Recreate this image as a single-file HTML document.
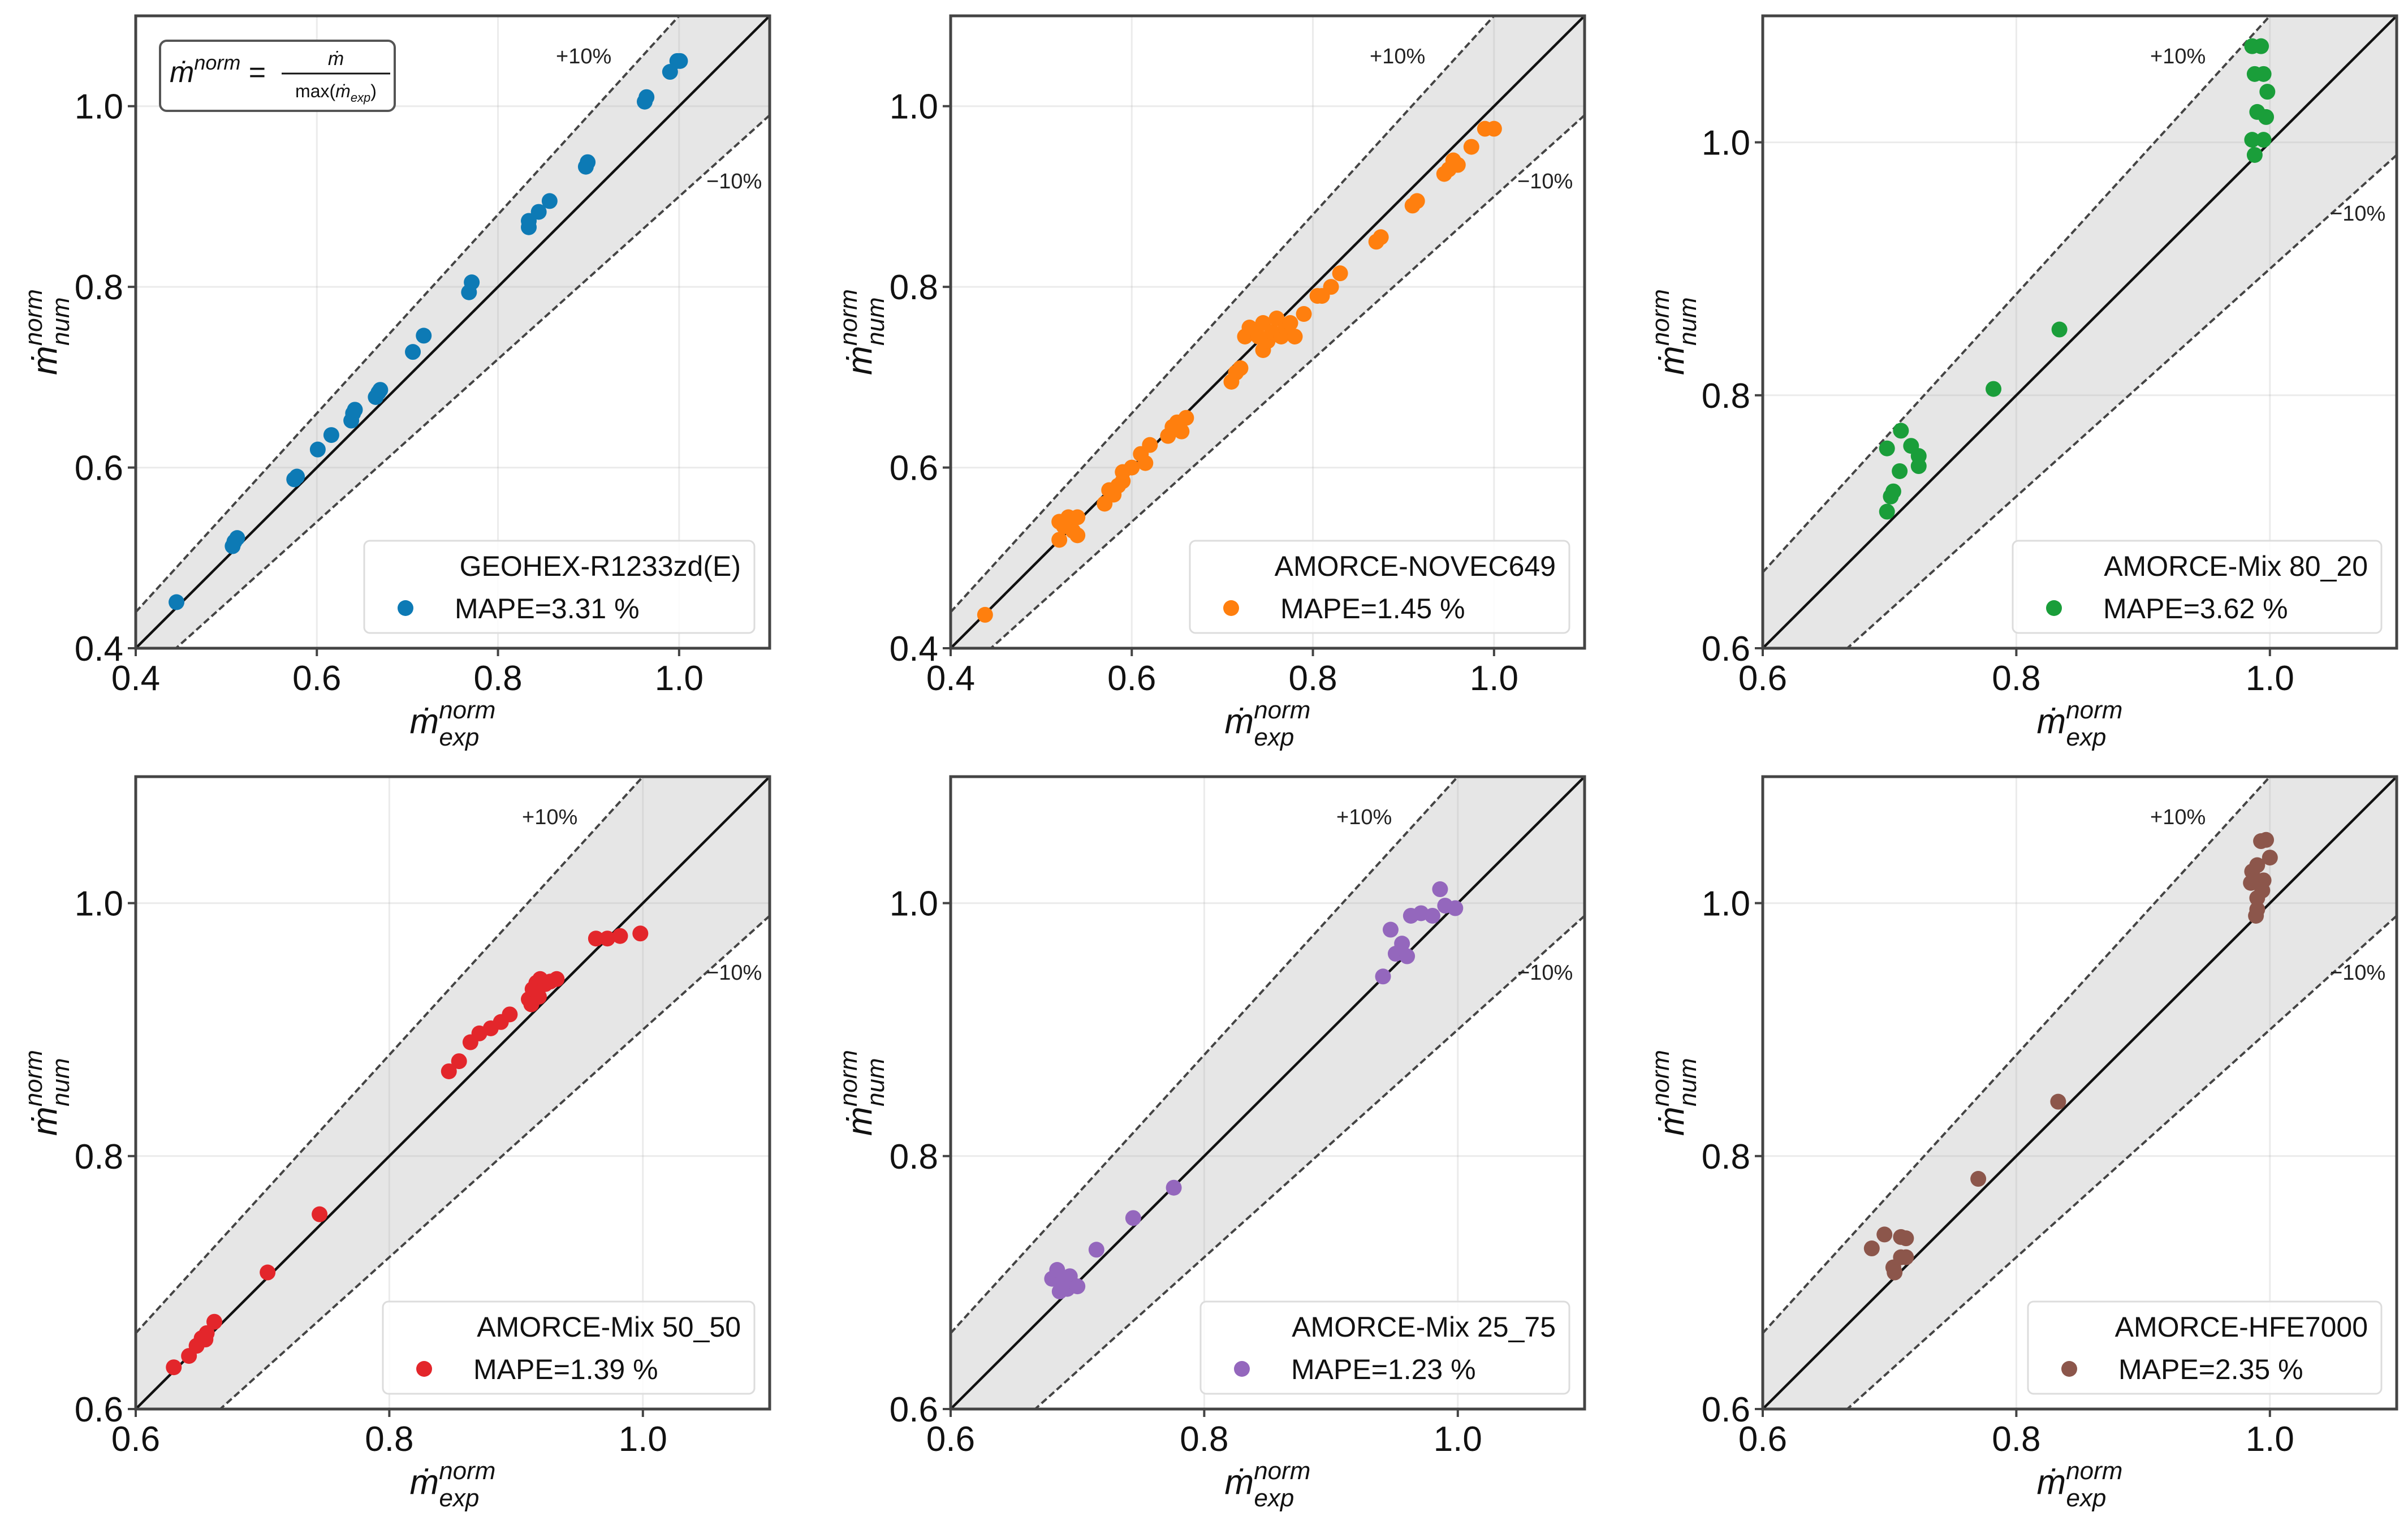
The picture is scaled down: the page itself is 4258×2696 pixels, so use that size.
<!DOCTYPE html>
<html><head><meta charset="utf-8">
<style>
html,body{margin:0;padding:0;background:#fff;}
svg{display:block;font-family:"Liberation Sans","DejaVu Sans",sans-serif;}
</style></head>
<body>
<svg id="fig" width="4258" height="2696" viewBox="0 0 4258 2696" xmlns="http://www.w3.org/2000/svg"></svg>
<script>
// ---- data ----
const geohexX = [0.445,0.509,0.512,0.507,0.575,0.578,0.601,0.616,0.638,0.640,0.642,0.665,0.668,0.670,0.706,0.718,0.768,0.771,0.834,0.834,0.845,0.857,0.897,0.899,0.962,0.964,0.990,0.998,1.001];
const geohexY = [0.451,0.518,0.522,0.513,0.587,0.590,0.620,0.636,0.652,0.660,0.664,0.678,0.683,0.686,0.728,0.746,0.794,0.805,0.866,0.873,0.883,0.895,0.933,0.938,1.005,1.010,1.038,1.050,1.050];
const novecX = [0.438,0.520,0.520,0.530,0.535,0.540,0.540,0.525,0.570,0.575,0.580,0.585,0.590,0.590,0.600,0.610,0.615,0.620,0.640,0.645,0.650,0.655,0.660,0.710,0.715,0.720,0.725,0.730,0.735,0.740,0.745,0.745,0.750,0.755,0.760,0.765,0.770,0.775,0.780,0.790,0.805,0.810,0.820,0.830,0.870,0.875,0.910,0.915,0.945,0.950,0.955,0.960,0.975,0.990,1.000];
const novecY = [0.437,0.520,0.540,0.545,0.530,0.545,0.525,0.535,0.560,0.575,0.570,0.580,0.585,0.595,0.600,0.615,0.605,0.625,0.635,0.645,0.650,0.640,0.655,0.695,0.705,0.710,0.745,0.755,0.750,0.745,0.760,0.730,0.740,0.750,0.765,0.745,0.755,0.760,0.745,0.770,0.790,0.790,0.800,0.815,0.850,0.855,0.890,0.895,0.925,0.930,0.940,0.935,0.955,0.975,0.975];
const mix8020X = [0.698,0.709,0.717,0.723,0.723,0.708,0.703,0.701,0.698,0.782,0.834,0.986,0.993,0.988,0.995,0.998,0.990,0.997,0.986,0.995,0.988];
const mix8020Y = [0.758,0.772,0.760,0.752,0.744,0.740,0.724,0.720,0.708,0.805,0.852,1.076,1.076,1.054,1.054,1.040,1.024,1.020,1.002,1.002,0.990];
const mix5050X = [0.630,0.642,0.648,0.652,0.656,0.662,0.655,0.704,0.745,0.847,0.855,0.864,0.871,0.880,0.888,0.895,0.910,0.913,0.916,0.919,0.923,0.927,0.932,0.912,0.918,0.963,0.972,0.982,0.998];
const mix5050Y = [0.633,0.642,0.650,0.656,0.660,0.669,0.655,0.708,0.754,0.867,0.875,0.890,0.897,0.901,0.906,0.912,0.924,0.932,0.937,0.940,0.936,0.938,0.940,0.920,0.926,0.972,0.972,0.974,0.976];
const mix2575X = [0.680,0.684,0.690,0.694,0.686,0.692,0.700,0.715,0.744,0.776,0.941,0.947,0.951,0.956,0.960,0.963,0.971,0.980,0.986,0.990,0.998];
const mix2575Y = [0.703,0.710,0.700,0.705,0.693,0.695,0.697,0.726,0.751,0.775,0.942,0.979,0.960,0.968,0.958,0.990,0.992,0.990,1.011,0.998,0.996];
const hfeX = [0.686,0.696,0.709,0.713,0.703,0.709,0.713,0.704,0.770,0.833,0.993,0.997,1.000,0.986,0.990,0.995,0.985,0.990,0.994,0.990,0.989];
const hfeY = [0.727,0.738,0.736,0.735,0.712,0.720,0.720,0.708,0.782,0.843,1.049,1.050,1.036,1.025,1.030,1.018,1.016,1.004,1.010,0.995,0.990];
const ticksA = [0.4,0.6,0.8,1.0];
const ticksB = [0.6,0.8,1.0];
const tickLabelsA = ["0.4","0.6","0.8","1.0"];
const tickLabelsB = ["0.6","0.8","1.0"];

const NS="http://www.w3.org/2000/svg";
const svg=document.getElementById('fig');
function mk(tag,attrs,parent){const e=document.createElementNS(NS,tag);for(const k in attrs)e.setAttribute(k,attrs[k]);(parent||svg).appendChild(e);return e;}

const panels=[
 {id:'geohex',x0:240,y0:28,min:0.4,X:geohexX,Y:geohexY,ticks:ticksA,labs:tickLabelsA,color:'#0d7ab5',name:'GEOHEX-R1233zd(E)',mape:'MAPE=3.31 %',legW:690,p10x:983,m10:[1249,333],formula:true},
 {id:'novec',x0:1681,y0:28,min:0.4,X:novecX,Y:novecY,ticks:ticksA,labs:tickLabelsA,color:'#ff7f0e',name:'AMORCE-NOVEC649',mape:'MAPE=1.45 %',legW:671,p10x:2422,m10:[2683,333]},
 {id:'mix8020',x0:3117,y0:28,min:0.6,X:mix8020X,Y:mix8020Y,ticks:ticksB,labs:tickLabelsB,color:'#1a9e3a',name:'AMORCE-Mix 80_20',mape:'MAPE=3.62 %',legW:652,p10x:3802,m10:[4120,390]},
 {id:'mix5050',x0:240,y0:1373,min:0.6,X:mix5050X,Y:mix5050Y,ticks:ticksB,labs:tickLabelsB,color:'#e3262b',name:'AMORCE-Mix 50_50',mape:'MAPE=1.39 %',legW:657,p10x:923,m10:[1249,1732]},
 {id:'mix2575',x0:1681,y0:1373,min:0.6,X:mix2575X,Y:mix2575Y,ticks:ticksB,labs:tickLabelsB,color:'#9467bd',name:'AMORCE-Mix 25_75',mape:'MAPE=1.23 %',legW:652,p10x:2363,m10:[2683,1732]},
 {id:'hfe',x0:3117,y0:1373,min:0.6,X:hfeX,Y:hfeY,ticks:ticksB,labs:tickLabelsB,color:'#8c564b',name:'AMORCE-HFE7000',mape:'MAPE=2.35 %',legW:625,p10x:3802,m10:[4120,1732]}
];
const W=1121,H=1118,MAX=1.1;

panels.forEach(p=>{
 const g=mk('g',{});
 
 
 const sx=v=>p.x0+(v-p.min)/(MAX-p.min)*W;
 const sy=v=>p.y0+H-(v-p.min)/(MAX-p.min)*H;
 const cid='clip-'+p.id;
 const cp=mk('clipPath',{id:cid},g);mk('rect',{x:p.x0,y:p.y0,width:W,height:H},cp);
 const plot=mk('g',{'clip-path':'url(#'+cid+')'},g);
 const band=mk('polygon',{points:`${sx(p.min)},${sy(p.min*1.1)} ${sx(MAX)},${sy(MAX*1.1)} ${sx(MAX)},${sy(MAX*0.9)} ${sx(p.min)},${sy(p.min*0.9)}`,fill:'#e6e6e6'},plot);
 
 
 p.ticks.forEach(t=>{
  const gx=mk('line',{x1:sx(t),x2:sx(t),y1:p.y0,y2:p.y0+H,stroke:'#b0b0b0','stroke-opacity':0.25,'stroke-width':3},plot);
  
  
  const gy=mk('line',{x1:p.x0,x2:p.x0+W,y1:sy(t),y2:sy(t),stroke:'#b0b0b0','stroke-opacity':0.25,'stroke-width':3},plot);
  
  
 });
 const ln=mk('line',{x1:sx(p.min),y1:sy(p.min),x2:sx(MAX),y2:sy(MAX),stroke:'#111','stroke-width':4.5},plot);
 
 
 const up=mk('line',{x1:sx(p.min),y1:sy(p.min*1.1),x2:sx(MAX),y2:sy(MAX*1.1),stroke:'#444','stroke-width':4,'stroke-dasharray':'12 6'},plot);
 
 
 const dn=mk('line',{x1:sx(p.min),y1:sy(p.min*0.9),x2:sx(MAX),y2:sy(MAX*0.9),stroke:'#444','stroke-width':4,'stroke-dasharray':'12 6'},plot);
 
 
 p.X.forEach((xv,i)=>{
  const c=mk('circle',{cx:sx(xv),cy:sy(p.Y[i]),r:14,fill:p.color},plot);
  
  
 });
 const t1=mk('text',{x:p.p10x,y:p.y0+84,'font-size':38,fill:'#222'},g);t1.textContent='+10%';
 
 
 const t2=mk('text',{x:p.m10[0],y:p.m10[1],'font-size':38,fill:'#222'},g);t2.textContent='\u221210%';
 
 
 const lx=p.x0+W-27-p.legW, ly=p.y0+H-27-163;
 const lg=mk('g',{},g);
 
 
 mk('rect',{x:lx,y:ly,width:p.legW,height:163,rx:10,fill:'#ffffff','fill-opacity':0.85,stroke:'#dcdcdc','stroke-width':3},lg);
 const lt=mk('text',{x:lx+p.legW-24,y:ly+62,'font-size':50,'text-anchor':'end',fill:'#111'},lg);lt.textContent=p.name;
 
 
 mk('circle',{cx:lx+73,cy:ly+119,r:14,fill:p.color},lg);
 const lm=mk('text',{x:lx+160,y:ly+137,'font-size':50,fill:'#111'},lg);lm.textContent=p.mape;
 
 
 const fr=mk('rect',{x:p.x0,y:p.y0,width:W,height:H,fill:'none',stroke:'#444','stroke-width':5},g);
 
 
 p.ticks.forEach((t,i)=>{
  mk('line',{x1:sx(t),x2:sx(t),y1:p.y0+H,y2:p.y0+H+14,stroke:'#444','stroke-width':4},g);
  mk('line',{x1:p.x0-14,x2:p.x0,y1:sy(t),y2:sy(t),stroke:'#444','stroke-width':4},g);
  const xt=mk('text',{x:sx(t),y:p.y0+H+74,'font-size':62,'text-anchor':'middle',fill:'#111'},g);xt.textContent=p.labs[i];
  
  
  const yt=mk('text',{x:p.x0-22,y:sy(t)+22,'font-size':62,'text-anchor':'end',fill:'#111'},g);yt.textContent=p.labs[i];
  
  
 });
 const xl=mk('text',{x:p.x0+W/2,y:p.y0+H+150,'font-size':62,'font-style':'italic','text-anchor':'middle',fill:'#111'},g);
 xl.innerHTML='\u1E41<tspan dy="-26" font-size="44">norm</tspan><tspan dx="-100" dy="48" font-size="44">exp</tspan>';
 
 
 const yl=mk('text',{x:0,y:0,'font-size':62,'font-style':'italic','text-anchor':'middle',fill:'#111',transform:`translate(${p.x0-140},${p.y0+H/2}) rotate(-90)`},g);
 yl.innerHTML='\u1E41<tspan dy="-26" font-size="44">norm</tspan><tspan dx="-100" dy="48" font-size="44">num</tspan>';
 
 
 if(p.formula){
  const fb=mk('g',{},g);
  
  
  mk('rect',{x:283,y:72,width:415,height:124,rx:12,fill:'#fff',stroke:'#555','stroke-width':4},fb);
  const ft=mk('text',{x:300,y:145,'font-size':52,'font-style':'italic',fill:'#111'},fb);
  ft.innerHTML='\u1E41<tspan dy="-22" font-size="36">norm</tspan><tspan dy="22" font-style="normal"> =</tspan>';
  mk('line',{x1:498,x2:690,y1:130,y2:130,stroke:'#111','stroke-width':3},fb);
  const fn=mk('text',{x:594,y:115,'font-size':34,'font-style':'italic','text-anchor':'middle',fill:'#111'},fb);fn.textContent='\u1E41';
  const fd=mk('text',{x:594,y:172,'font-size':32,'text-anchor':'middle',fill:'#111'},fb);
  fd.innerHTML='max(<tspan font-style="italic">\u1E41</tspan><tspan font-size="22" font-style="italic" dy="8">exp</tspan><tspan dy="-8">)</tspan>';
 }
});
</script>
</body></html>
